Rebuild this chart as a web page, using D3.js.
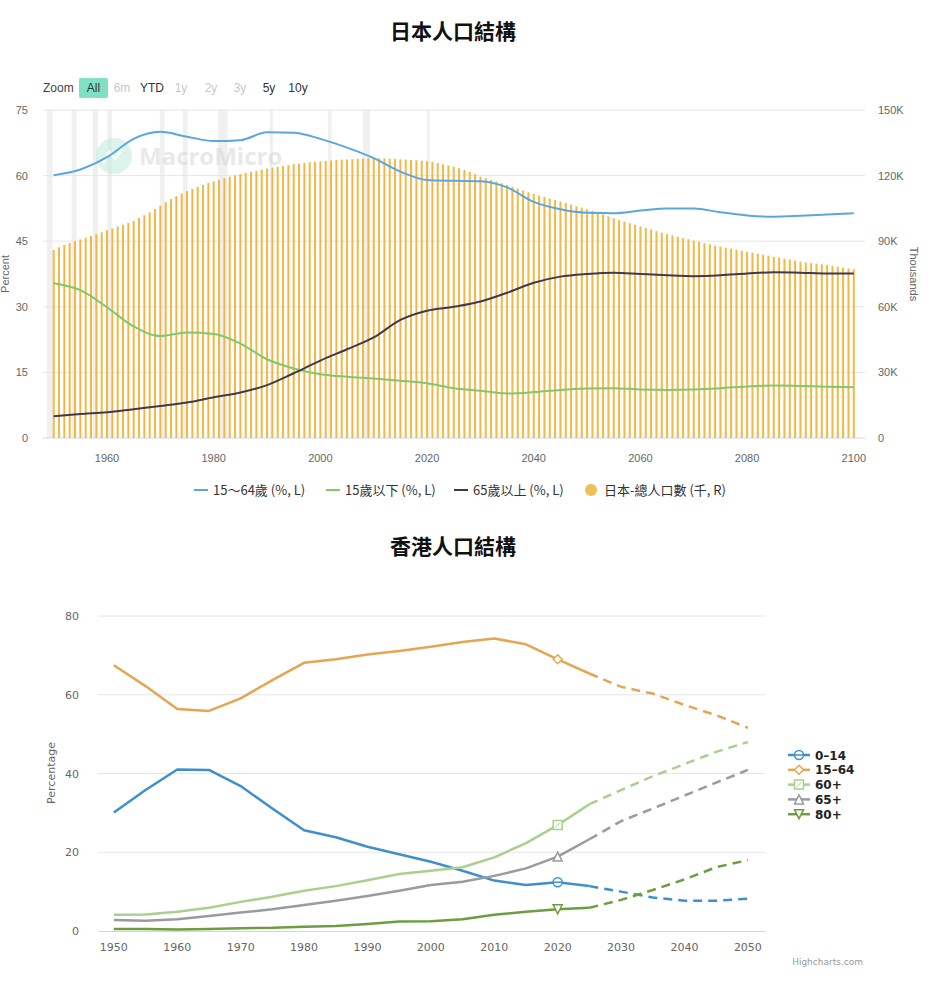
<!DOCTYPE html>
<html>
<head>
<meta charset="utf-8">
<script src="https://cdn.jsdelivr.net/npm/d3@7"></script>
<style>
  body { margin: 0; background: #fff; }
  svg { display: block; }
</style>
</head>
<body>
<svg id="chart" width="942" height="1002"></svg>
<script>
// ---- Japan (top chart) ----
var jpYears = [1950,1955,1960,1965,1970,1975,1980,1985,1990,1995,2000,2005,2010,2015,2020,2025,2030,2035,2040,2045,2050,2055,2060,2065,2070,2075,2080,2085,2090,2095,2100];
var jp1564 = [60.1,61.4,64.2,68.4,70.0,68.9,67.9,68.1,69.9,69.8,68.4,66.4,64.0,60.9,59.0,58.8,58.7,57.3,54.0,52.3,51.5,51.4,52.0,52.5,52.5,51.6,50.9,50.6,50.8,51.1,51.4];
var jpUnder15 = [35.4,33.8,29.9,25.5,23.3,24.1,23.8,21.6,18.0,15.9,14.6,14.0,13.6,13.1,12.5,11.4,10.8,10.2,10.5,11.0,11.3,11.4,11.1,11.0,11.1,11.4,11.8,12.0,11.9,11.7,11.6];
var jp65 = [5.0,5.5,5.9,6.6,7.3,8.1,9.3,10.4,12.1,14.8,17.7,20.3,23.0,27.0,29.1,30.0,31.2,33.2,35.5,36.9,37.5,37.8,37.5,37.2,37.0,37.2,37.6,37.9,37.8,37.6,37.6];

// total population, thousands (K), one bar per year 1950..2100
var popStart = 1950;
var jpPop = [
  86.0,87.2,88.3,89.2,90.0,90.8,91.6,92.4,93.2,94.1,
  95.0,95.8,96.7,97.5,98.4,99.3,100.6,101.9,103.2,104.7,
  106.2,107.8,109.3,110.6,111.8,112.9,113.9,114.8,115.7,116.6,
  117.4,118.1,118.8,119.5,120.1,120.7,121.2,121.7,122.2,122.7,
  123.2,123.6,124.0,124.4,124.8,125.2,125.5,125.8,126.1,126.3,
  126.5,126.7,126.9,127.1,127.3,127.4,127.5,127.7,127.8,127.9,
  127.9,127.9,127.8,127.7,127.6,127.4,127.3,127.2,127.0,126.8,
  126.6,126.2,125.7,125.2,124.7,124.1,123.4,122.6,121.7,120.6,
  119.5,118.8,118.0,117.3,116.5,115.7,114.9,114.1,113.2,112.4,
  111.6,110.9,110.2,109.5,108.8,108.1,107.4,106.7,106.0,105.3,
  104.6,103.8,103.0,102.2,101.3,100.5,99.7,99.0,98.2,97.5,
  96.7,96.0,95.3,94.6,93.9,93.2,92.6,92.0,91.4,90.9,
  90.3,89.7,89.1,88.6,88.0,87.5,87.0,86.6,86.1,85.7,
  85.2,84.7,84.3,83.8,83.4,82.9,82.5,82.0,81.6,81.1,
  80.6,80.3,80.0,79.7,79.4,79.1,78.7,78.3,77.9,77.5,
  77.1
];

// shaded periods (years)
var jpBands = [[1948.7,1949.8],[1953.4,1954.3],[1957.3,1958.3],[1960.1,1960.9],[1969.9,1970.8],[1974.2,1975.1],[1980.8,1982.6],[1990.5,1991.1],[2001.4,2002.1],[2008.0,2009.3],[2020.0,2020.5]];

var leftTicks = [0,15,30,45,60,75];
var rightTicks = [0,30,60,90,120,150];
var jpXTicks = [1960,1980,2000,2020,2040,2060,2080,2100];
var zoomLabels = ["6m","YTD","1y","2y","3y","5y","10y"];
var zoomActive = ["YTD","5y","10y"];

// ---- Hong Kong (bottom chart) ----
var hkYears = [1950,1955,1960,1965,1970,1975,1980,1985,1990,1995,2000,2005,2010,2015,2020,2025,2030,2035,2040,2045,2050];
var hk014 = [30.1,35.8,41.0,40.9,36.8,31.1,25.6,23.8,21.4,19.5,17.6,15.3,12.8,11.7,12.4,11.4,10.0,8.5,7.7,7.7,8.2];
var hk1564 = [67.5,62.2,56.4,55.9,59.1,63.7,68.1,69.0,70.2,71.1,72.2,73.4,74.3,72.8,69.0,65.4,62.0,60.3,57.4,54.8,51.6];
var hk60 = [4.1,4.2,4.9,5.9,7.4,8.7,10.2,11.4,12.9,14.5,15.3,16.2,18.7,22.3,26.9,32.2,35.8,39.3,42.4,45.5,48.0];
var hk65 = [2.8,2.6,3.0,3.8,4.7,5.5,6.6,7.7,8.9,10.2,11.7,12.5,14.0,15.9,18.9,23.3,27.9,31.1,34.4,37.7,40.9];
var hk80 = [0.5,0.5,0.4,0.5,0.7,0.8,1.1,1.3,1.8,2.4,2.5,3.0,4.1,4.9,5.5,5.9,7.9,10.4,13.1,16.2,18.0];
var hkNames = ["0–14","15–64","60+","65+","80+"];
var hkColors = ["#3f8fcf","#e5a552","#a9d08e","#9a9ba0","#6c9e3f"];
var hkSymbols = ["circle","diamond","square","triangle","triangleDown"];
var projFrom = 2025;
var hkYTicks = [0,20,40,60,80];
var hkXTicks = [1950,1960,1970,1980,1990,2000,2010,2020,2030,2040,2050];

var svg = d3.select("#chart");
var cjk = "'Noto Sans CJK TC', 'Noto Sans', sans-serif";
var latin = "'Liberation Sans', 'Noto Sans', sans-serif";

// ================= top chart =================
var x1 = d3.scaleLinear().domain([1948, 2102.1]).range([43, 865]);
var yL = d3.scaleLinear().domain([0, 75]).range([438, 110]);
var yR = d3.scaleLinear().domain([0, 150]).range([438, 110]);

svg.append("text").attr("x", 453).attr("y", 39).attr("text-anchor", "middle")
  .style("font-family", cjk).style("font-size", "21px").style("font-weight", "bold")
  .attr("fill", "#111").text("日本人口結構");

// zoom buttons
var zoomG = svg.append("g").attr("font-family", latin).attr("font-size", "12px");
zoomG.append("text").attr("x", 43).attr("y", 92).attr("fill", "#444").text("Zoom");
zoomG.append("rect").attr("x", 79).attr("y", 78).attr("width", 29).attr("height", 20).attr("rx", 2).attr("fill", "#7fe0c4");
zoomG.append("text").attr("x", 93.5).attr("y", 92).attr("text-anchor", "middle").attr("fill", "#333").text("All");
var zx = [122, 152, 181, 211, 240, 269, 298];
zoomLabels.forEach(function(l, i) {
  zoomG.append("text").attr("x", zx[i]).attr("y", 92).attr("text-anchor", "middle")
    .attr("fill", zoomActive.indexOf(l) >= 0 ? "#333" : "#c8c8c8").text(l);
});

var g1 = svg.append("g");

g1.selectAll("rect.band").data(jpBands).enter().append("rect").attr("class", "band")
  .attr("x", function(d) { return x1(d[0]); })
  .attr("width", function(d) { return x1(d[1]) - x1(d[0]); })
  .attr("y", 110).attr("height", 328).attr("fill", "#f0f0f0");

g1.selectAll("line.grid").data(leftTicks).enter().append("line").attr("class", "grid")
  .attr("x1", 43).attr("x2", 865)
  .attr("y1", function(d) { return yL(d); }).attr("y2", function(d) { return yL(d); })
  .attr("stroke", function(d) { return d == 0 ? "#d8d8d8" : "#e6e6e6"; })
  .attr("stroke-width", 1);

// watermark
var wm = g1.append("g").attr("opacity", 0.5);
wm.append("circle").attr("cx", 114).attr("cy", 156).attr("r", 18).attr("fill", "#bdebdc");
wm.append("path").attr("d", "M103,163 L109,152 L115,159 L122,149").attr("fill", "none").attr("stroke", "#fff").attr("stroke-width", 2.5);
wm.append("text").attr("x", 139).attr("y", 165).style("font-family", "'Open Sans', sans-serif")
  .style("font-size", "24px").style("font-weight", "bold").attr("fill", "#d4d4d4").text("MacroMicro");

g1.selectAll("rect.pop").data(jpPop).enter().append("rect").attr("class", "pop")
  .attr("x", function(d, i) { return x1(popStart + i) - 1; })
  .attr("width", 2)
  .attr("y", function(d) { return yR(d); })
  .attr("height", function(d) { return yR(0) - yR(d); })
  .attr("fill", "#f2b845");

var jpLine = function(vals) {
  return d3.line().x(function(d, i) { return x1(jpYears[i]); }).y(function(d) { return yL(d); })
    .curve(d3.curveMonotoneX)(vals);
};
[[jpUnder15, "#7dca6c"], [jp65, "#3c3b49"], [jp1564, "#5aa8db"]].forEach(function(s) {
  g1.append("path").attr("d", jpLine(s[0])).attr("fill", "none").attr("stroke", s[1]).attr("stroke-width", 2);
});

// axes labels
var axL = g1.append("g").attr("font-family", latin).attr("font-size", "11px").attr("fill", "#666");
leftTicks.forEach(function(t) {
  axL.append("text").attr("x", 28).attr("y", yL(t) + 4).attr("text-anchor", "end").text(t);
});
rightTicks.forEach(function(t) {
  axL.append("text").attr("x", 878).attr("y", yR(t) + 4).text(t == 0 ? "0" : t + "K");
});
jpXTicks.forEach(function(t) {
  axL.append("text").attr("x", x1(t)).attr("y", 462).attr("text-anchor", "middle").text(t);
});
axL.append("text").attr("transform", "translate(9,274) rotate(-90)").attr("text-anchor", "middle").text("Percent");
axL.append("text").attr("transform", "translate(910,274) rotate(90)").attr("text-anchor", "middle").text("Thousands");

// legend
var leg1 = svg.append("g").style("font-family", cjk).style("font-size", "13px");
var legItems = [
  { x: 194, label: "15～64歲 (%, L)", color: "#5aa8db" },
  { x: 326, label: "15歲以下 (%, L)", color: "#7dca6c" },
  { x: 454, label: "65歲以上 (%, L)", color: "#3c3b49" }
];
legItems.forEach(function(d) {
  leg1.append("line").attr("x1", d.x).attr("x2", d.x + 14).attr("y1", 490).attr("y2", 490).attr("stroke", d.color).attr("stroke-width", 2);
  leg1.append("text").attr("x", d.x + 19).attr("y", 494.5).attr("fill", "#333").text(d.label);
});
leg1.append("circle").attr("cx", 591).attr("cy", 490).attr("r", 6).attr("fill", "#f0bf55");
leg1.append("text").attr("x", 604).attr("y", 494.5).attr("fill", "#333").text("日本-總人口數 (千, R)");

// ================= bottom chart =================
svg.append("text").attr("x", 453).attr("y", 554).attr("text-anchor", "middle")
  .style("font-family", cjk).style("font-size", "21px").style("font-weight", "bold")
  .attr("fill", "#111").text("香港人口結構");

var x2 = d3.scaleLinear().domain([1947.5, 2052.7]).range([98, 765]);
var y2 = d3.scaleLinear().domain([0, 80]).range([931, 616]);
var g2 = svg.append("g");
var hkFont = "'DejaVu Sans', 'Noto Sans', sans-serif";

g2.selectAll("line.grid").data(hkYTicks.filter(function(d) { return d > 0; })).enter().append("line")
  .attr("x1", 98).attr("x2", 765)
  .attr("y1", function(d) { return y2(d); }).attr("y2", function(d) { return y2(d); })
  .attr("stroke", "#e6e6e6");
g2.append("line").attr("x1", 98).attr("x2", 765).attr("y1", 931.5).attr("y2", 931.5).attr("stroke", "#ccd6eb");

var ax2 = g2.append("g").attr("font-family", hkFont).attr("font-size", "11px").attr("fill", "#666");
hkYTicks.forEach(function(t) {
  ax2.append("text").attr("x", 79).attr("y", y2(t) + 4).attr("text-anchor", "end").text(t);
});
hkXTicks.forEach(function(t) {
  ax2.append("text").attr("x", x2(t)).attr("y", 951).attr("text-anchor", "middle").text(t);
});
ax2.append("text").attr("transform", "translate(55,773) rotate(-90)").attr("text-anchor", "middle").text("Percentage");

var hkSeries = [hk014, hk1564, hk60, hk65, hk80];
var hkLine = d3.line().x(function(d) { return x2(d[0]); }).y(function(d) { return y2(d[1]); });

function marker(sel, type, cx, cy, color, r) {
  var p;
  if (type == "circle") {
    sel.append("circle").attr("cx", cx).attr("cy", cy).attr("r", r).attr("fill", "#fff").attr("stroke", color).attr("stroke-width", 1.5);
    sel.append("line").attr("x1", cx - r).attr("x2", cx + r).attr("y1", cy).attr("y2", cy).attr("stroke", color).attr("stroke-width", 1.5);
    return;
  }
  if (type == "diamond") p = [[cx, cy - r], [cx + r, cy], [cx, cy + r], [cx - r, cy]];
  if (type == "square") p = [[cx - r, cy - r], [cx + r, cy - r], [cx + r, cy + r], [cx - r, cy + r]];
  if (type == "triangle") p = [[cx, cy - r], [cx + r, cy + r], [cx - r, cy + r]];
  if (type == "triangleDown") p = [[cx - r, cy - r], [cx + r, cy - r], [cx, cy + r]];
  sel.append("path").attr("d", "M" + p.join("L") + "Z").attr("fill", "#fff").attr("stroke", color).attr("stroke-width", 1.5);
  if (type == "square") {
    sel.append("line").attr("x1", cx - r + 2).attr("y1", cy + r - 2).attr("x2", cx + r - 2).attr("y2", cy - r + 2).attr("stroke", color).attr("stroke-width", 1);
  }
}

hkSeries.forEach(function(vals, k) {
  var pts = hkYears.map(function(yr, i) { return [yr, vals[i]]; });
  var solid = pts.filter(function(d) { return d[0] <= projFrom; });
  var dashed = pts.filter(function(d) { return d[0] >= projFrom; });
  g2.append("path").attr("d", hkLine(solid)).attr("fill", "none").attr("stroke", hkColors[k]).attr("stroke-width", 2.5).attr("stroke-linejoin", "round");
  g2.append("path").attr("d", hkLine(dashed)).attr("fill", "none").attr("stroke", hkColors[k]).attr("stroke-width", 2.5).attr("stroke-dasharray", "9,6");
  var i20 = hkYears.indexOf(2020);
  marker(g2, hkSymbols[k], x2(2020), y2(vals[i20]), hkColors[k], 4.5);
});

// legend
var leg2 = svg.append("g").attr("font-family", hkFont).attr("font-size", "12px").attr("font-weight", "bold");
hkNames.forEach(function(n, k) {
  var ly = 755 + k * 14.8;
  leg2.append("line").attr("x1", 788).attr("x2", 810).attr("y1", ly).attr("y2", ly).attr("stroke", hkColors[k]).attr("stroke-width", 2.5);
  marker(leg2, hkSymbols[k], 799, ly, hkColors[k], 4.5);
  leg2.append("text").attr("x", 815).attr("y", ly + 4.5).attr("fill", "#222").text(n);
});

svg.append("text").attr("x", 863).attr("y", 965).attr("text-anchor", "end")
  .attr("font-family", hkFont).attr("font-size", "9px").attr("fill", "#999").text("Highcharts.com");
</script>
</body>
</html>
